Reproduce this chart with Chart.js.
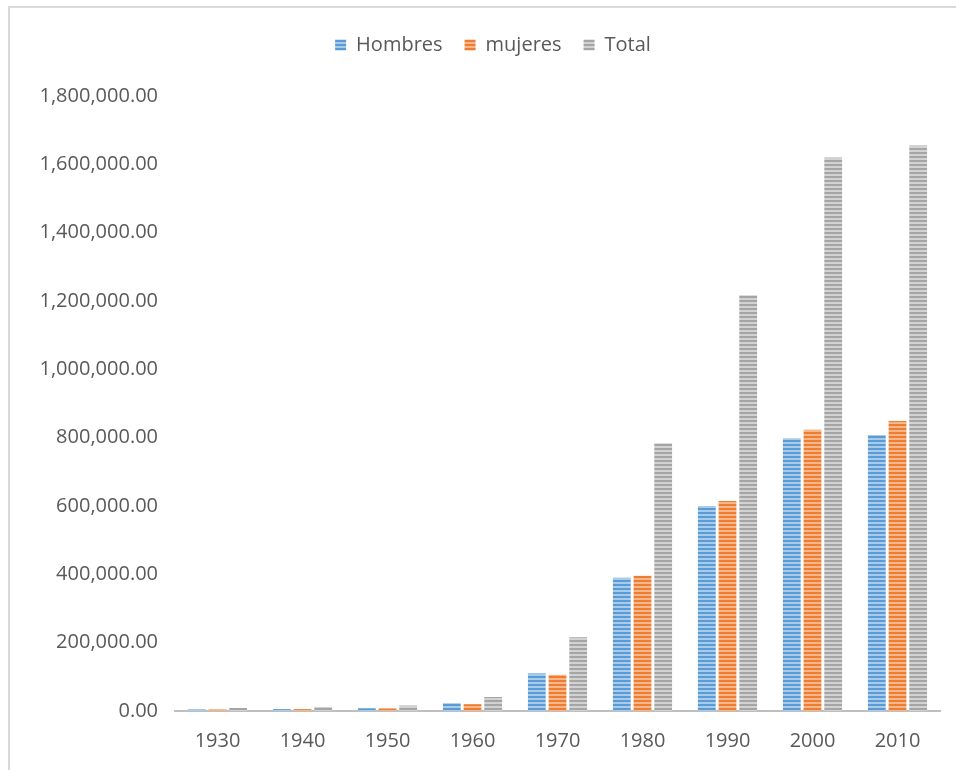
<!DOCTYPE html>
<html>
<head>
<meta charset="utf-8">
<script src="https://cdn.jsdelivr.net/npm/chart.js@4"></script>
<style>
  html, body { margin: 0; padding: 0; background: #fff; overflow: hidden; }
  #wrap { position: relative; width: 956px; height: 770px; }
  #frame { position: absolute; left: 8px; top: 6px; width: 980px; height: 800px; border: 2px solid #d9d9d9; box-sizing: border-box; }
  canvas { position: absolute; left: 0; top: 0; }
</style>
</head>
<body>
<div id="wrap">
  <div id="frame"></div>
  <canvas id="chart" width="956" height="770"></canvas>
</div>
<script>
const years = ['1930', '1940', '1950', '1960', '1970', '1980', '1990', '2000', '2010'];
const hombres = [4500, 5500, 8000, 23000, 110000, 390000, 600000, 798000, 808000];
const mujeres = [4500, 5500, 7500, 20000, 106000, 396000, 615000, 823000, 849000];
const total = [9000, 12000, 16000, 41000, 216000, 784000, 1217000, 1620000, 1655000];
const yTickLabels = ['0.00', '200,000.00', '400,000.00', '600,000.00', '800,000.00',
  '1,000,000.00', '1,200,000.00', '1,400,000.00', '1,600,000.00', '1,800,000.00'];

// horizontal stripes like the Excel pattern fill
function stripes(dark, light) {
  const c = document.createElement('canvas');
  c.width = 4; c.height = 4;
  const g = c.getContext('2d');
  g.fillStyle = dark; g.fillRect(0, 0, 4, 2);
  g.fillStyle = light; g.fillRect(0, 2, 4, 2);
  return g.createPattern(c, 'repeat');
}

const font = { family: 'Open Sans', size: 20 };
const ctx = document.getElementById('chart').getContext('2d');

new Chart(ctx, {
  type: 'bar',
  data: {
    labels: years,
    datasets: [
      { label: 'Hombres', data: hombres, backgroundColor: stripes('#5b9bd5', '#a9cbea'), borderWidth: 0 },
      { label: 'mujeres', data: mujeres, backgroundColor: stripes('#ed7d31', '#f5b68c'), borderWidth: 0 },
      { label: 'Total', data: total, backgroundColor: stripes('#a5a5a5', '#d2d2d2'), borderWidth: 0 }
    ]
  },
  options: {
    responsive: false,
    animation: false,
    categoryPercentage: 0.73,
    barPercentage: 0.86,
    layout: { padding: { top: 13, right: 16, bottom: 0, left: 0 } },
    scales: {
      x: {
        grid: { display: false, drawTicks: false },
        border: { display: true, color: '#bfbfbf', width: 2 },
        ticks: { color: '#595959', font: font, padding: 18 },
        afterFit: (s) => { s.height = 59; }
      },
      y: {
        min: 0,
        max: 1800000,
        grid: { display: false, drawTicks: false },
        border: { display: false },
        ticks: {
          stepSize: 200000,
          color: '#595959',
          font: font,
          padding: 17,
          callback: (v, i) => yTickLabels[i]
        },
        afterFit: (s) => { s.width = 175; }
      }
    },
    plugins: {
      legend: {
        position: 'top',
        labels: { color: '#595959', font: font, boxWidth: 11, boxHeight: 11, padding: 22 }
      },
      tooltip: { enabled: false }
    }
  },
  plugins: [{
    id: 'legendGap',
    beforeInit(chart) {
      const fit = chart.legend.fit;
      chart.legend.fit = function () {
        fit.bind(chart.legend)();
        this.height = 83;
      };
    },
    afterLayout(chart) {
      // legend sits a bit right of the canvas centre in the original
      chart.legend.left += 46;
    }
  }]
});
</script>
</body>
</html>
